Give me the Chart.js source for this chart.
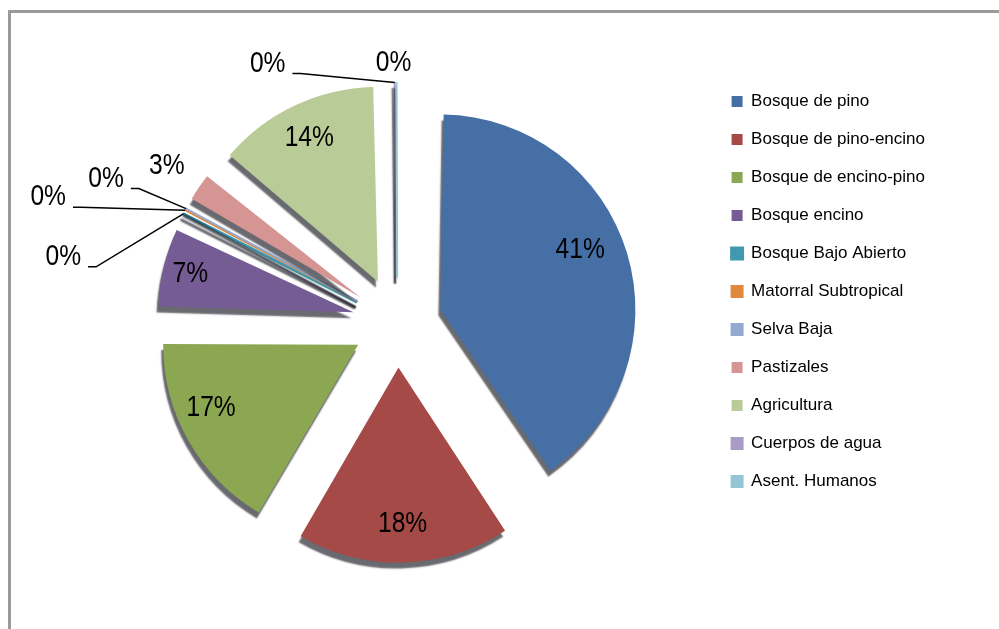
<!DOCTYPE html>
<html>
<head>
<meta charset="utf-8">
<script src="https://cdn.jsdelivr.net/npm/chart.js@4.4.1/dist/chart.umd.min.js"></script>
<style>
  html, body { margin: 0; padding: 0; background: #fff; }
  #wrap { position: relative; width: 999px; height: 629px; overflow: hidden; }
  #frame { position: absolute; left: 8px; top: 10px; right: 0; bottom: 0;
           border-left: 3px solid #9a9a9a; border-top: 3px solid #9a9a9a; pointer-events: none; }
</style>
</head>
<body>
<div id="wrap">
  <canvas id="usoSuelo" width="999" height="629"></canvas>
  <div id="frame"></div>
</div>
<script>
// ---- Datos ----
const categorias = [
  "Bosque de pino", "Bosque de pino-encino", "Bosque de encino-pino", "Bosque encino",
  "Bosque Bajo Abierto", "Matorral Subtropical", "Selva Baja", "Pastizales",
  "Agricultura", "Cuerpos de agua", "Asent. Humanos"
];
const porcentajes = [41.2, 17.9, 16.9, 7.2, 0.45, 0.1, 0.15, 3.2, 13.8, 0.15, 0.1];

// ---- Estilo ----
const colores = ["#4670A5", "#A64A48", "#8BA752", "#755C95", "#4199B0", "#E0893D",
                 "#93A9D0", "#D49593", "#B9CC98", "#A99CC4", "#93C5D5"];
const bordes = [0, 0, 0, 0, 3, 2, 2, 0, 0, 2, 2];
const separacion = 45;   // desplazamiento de cada rebanada (px)
const escalaTexto = 0.82; // letra angosta tipo Arial Narrow

// r: etiqueta dentro (fraccion del radio), a: giro en grados
// dx/dy: etiqueta fuera, relativa a la punta de la rebanada
const etiquetas = [
  { r: 0.78, a: -6.5 }, { r: 0.8, a: 0 }, { r: 0.82, a: 6.5 }, { r: 0.86, a: 0 },
  { dx: -120, dy: 43, guia: true },
  { dx: -137, dy: -13, guia: true },
  { dx: -80, dy: -30, guia: true },
  { r: 1.2, a: 0 }, { r: 0.82, a: 0 },
  { dx: -127, dy: -19, guia: true },
  { dx: -3, dy: -20, guia: false }
];

// Chart.js agranda el radio de las rebanadas desplazadas; se compensa para que todas midan igual
const radioParejo = {
  id: "radioParejo",
  beforeDatasetsDraw(chart) {
    const meta = chart.getDatasetMeta(0);
    const base = meta.controller.outerRadius;
    meta.data.forEach(arc => {
      const off = (arc.options.offset || 0) / 4;
      const fix = 1 - Math.sin(Math.min(Math.PI, arc.circumference));
      arc.outerRadius = base - off * fix;
    });
    // borde 3D aproximado con sombra
    const ctx = chart.ctx;
    ctx.save();
    ctx.shadowColor = "rgba(25,25,35,0.65)";
    ctx.shadowBlur = 1.5;
    ctx.shadowOffsetX = -2;
    ctx.shadowOffsetY = 6;
  },
  afterDatasetsDraw(chart) {
    chart.ctx.restore();
  }
};

// ---- Etiquetas de porcentaje ----
const etiquetasPct = {
  id: "etiquetasPct",
  afterDatasetsDraw(chart) {
    const ctx = chart.ctx;
    const meta = chart.getDatasetMeta(0);
    const base = meta.controller.outerRadius;
    const total = porcentajes.reduce((a, b) => a + b, 0);
    ctx.save();
    ctx.font = '30px "Liberation Sans", Arial, sans-serif';
    ctx.fillStyle = "#000";
    ctx.strokeStyle = "#000";
    ctx.lineWidth = 1.5;
    ctx.textAlign = "center";
    ctx.textBaseline = "middle";
    meta.data.forEach((arc, i) => {
      const mid = (arc.startAngle + arc.endAngle) / 2;
      const shift = (arc.options.offset || 0) / 4;
      const ax = arc.x + Math.cos(mid) * shift;
      const ay = arc.y + Math.sin(mid) * shift;
      const txt = Math.round(porcentajes[i] / total * 100) + "%";
      const et = etiquetas[i];
      let tx, ty;
      if (et.r) {
        const ang = mid + et.a * Math.PI / 180;
        tx = ax + Math.cos(ang) * base * et.r;
        ty = ay + Math.sin(ang) * base * et.r;
      } else {
        const px = ax + Math.cos(mid) * base;
        const py = ay + Math.sin(mid) * base;
        tx = px + et.dx;
        ty = py + et.dy;
        if (et.guia) {
          const w = ctx.measureText(txt).width * escalaTexto;
          const sx = tx + w / 2 + 7, sy = ty + 10;
          ctx.beginPath();
          ctx.moveTo(sx, sy);
          ctx.lineTo(sx + 8, sy);
          ctx.lineTo(px, py);
          ctx.stroke();
        }
      }
      ctx.save();
      ctx.translate(tx, ty);
      ctx.scale(escalaTexto, 1);
      ctx.fillText(txt, 0, 0);
      ctx.restore();
    });
    ctx.restore();
  }
};

new Chart(document.getElementById("usoSuelo"), {
  type: "pie",
  data: {
    labels: categorias,
    datasets: [{
      data: porcentajes,
      backgroundColor: colores,
      borderColor: colores,
      borderWidth: bordes,
      offset: separacion * 4,
      radius: 195
    }]
  },
  options: {
    responsive: false,
    animation: false,
    layout: { padding: { left: 84, right: 64, top: 72, bottom: 56 } },
    plugins: {
      legend: {
        position: "right",
        align: "start",
        labels: {
          boxWidth: 11,
          boxHeight: 11,
          padding: 21,
          color: "#000",
          font: { size: 17, family: '"Liberation Sans", Arial, sans-serif' }
        }
      },
      tooltip: { enabled: false }
    }
  },
  plugins: [radioParejo, etiquetasPct]
});
</script>
</body>
</html>
